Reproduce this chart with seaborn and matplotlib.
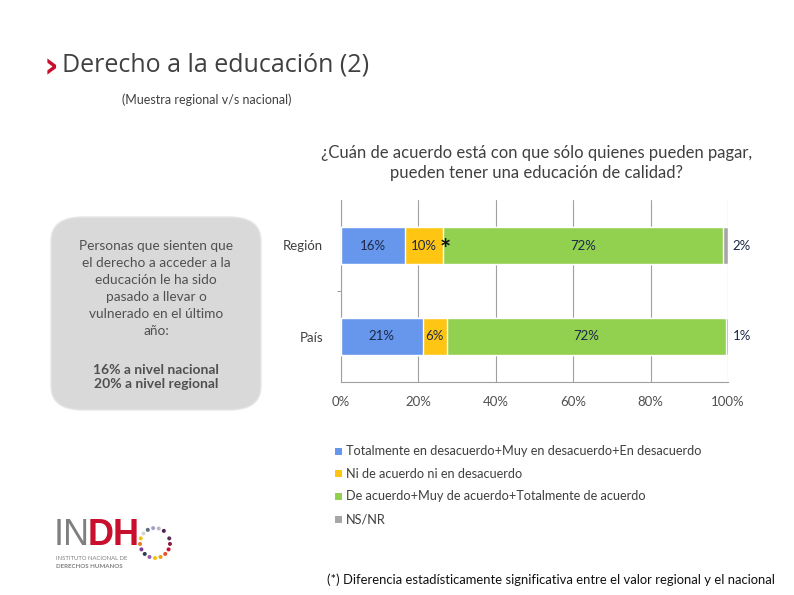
import matplotlib
matplotlib.use("Agg")
import matplotlib.pyplot as plt
from matplotlib.patches import FancyBboxPatch, Ellipse, Rectangle
import numpy as np
import pandas as pd
import seaborn as sns

sns.set_style("white")
plt.rcParams["font.family"] = ["Lato", "DejaVu Sans"]

# data
groups = ["Región", "País"]
categories = [
    "Totalmente en desacuerdo+Muy en desacuerdo+En desacuerdo",
    "Ni de acuerdo ni en desacuerdo",
    "De acuerdo+Muy de acuerdo+Totalmente de acuerdo",
    "NS/NR",
]
region_vals = [16.5, 9.9, 72.2, 1.4]
pais_vals = [21.1, 6.2, 72.2, 0.5]
region_labels = ["16%", "10%", "72%", "2%"]
pais_labels = ["21%", "6%", "72%", "1%"]
colors = ["#6797EC", "#FFC513", "#92D050", "#A6A6A6"]
xticks = [0, 20, 40, 60, 80, 100]

df = pd.DataFrame({"grupo": groups})
vals = np.array([region_vals, pais_vals])
cums = vals.cumsum(axis=1)
for i, c in enumerate(categories):
    df[c] = cums[:, i]

fig = plt.figure(figsize=(7.94, 5.95), dpi=100)
ax = fig.add_axes([341 / 794, 1 - 382 / 595, 387 / 794, 182 / 595])

# stacked bars drawn as overlapping cumulative totals, largest first
for i in range(len(categories) - 1, -1, -1):
    sns.barplot(data=df, y="grupo", x=categories[i], color=colors[i],
                orient="h", width=0.4, ax=ax, saturation=1, zorder=3)

ax.set_xlim(0, 100)
ax.set_ylim(1.5, -0.5)
ax.set_xticks(xticks)
ax.set_xticklabels([f"{t}%" for t in xticks], fontsize=9.5, color="#505050")
ax.set_yticks([0, 1])
ax.set_yticklabels(groups, fontsize=9.5, color="#404040")
ax.set_yticks([0.5], minor=True)
ax.tick_params(axis="y", which="minor", length=3, color="#888888", left=True)
ax.tick_params(axis="y", which="major", length=0, pad=13)
ax.tick_params(axis="x", length=0, pad=10)
ax.set_xlabel("")
ax.set_ylabel("")
ax.grid(axis="x", color="#A0A0A0", linewidth=0.8, zorder=0)
ax.set_axisbelow(True)
for s in ["top", "right"]:
    ax.spines[s].set_visible(False)
for s in ["left", "bottom"]:
    ax.spines[s].set_color("#A0A0A0")
    ax.spines[s].set_linewidth(0.8)

# segment labels
for row, labs in enumerate([region_labels, pais_labels]):
    starts = np.concatenate([[0], cums[row, :-1]])
    for j in range(3):
        ax.text(starts[j] + vals[row, j] / 2, row, labs[j], ha="center", va="center",
                fontsize=9.5, color="#1C2848", zorder=5)
    ax.text(101.2, row, labs[3], ha="left", va="center", fontsize=9.5,
            color="#1C2848", clip_on=False)

ax.text(cums[0, 1] + 0.6, 0.05, "*", ha="center", va="center", fontsize=19,
        fontweight="bold", color="#111111", zorder=6)

# titles
fig.text(44 / 794, 1 - 67 / 595, "›", fontsize=26, fontweight="bold",
         color="#C8102E", ha="left", va="center", family=["DejaVu Sans"])
fig.text(62 / 794, 1 - 65 / 595, "Derecho a la educación (2)", fontsize=18,
         color="#404040", ha="left", va="center", family=["Open Sans", "DejaVu Sans"])
fig.text(207 / 794, 1 - 100 / 595, "(Muestra regional v/s nacional)", fontsize=9,
         color="#404040", ha="center", va="center")
fig.text(537 / 794, 1 - 163 / 595,
         "¿Cuán de acuerdo está con que sólo quienes pueden pagar,\npueden tener una educación de calidad?",
         fontsize=12, color="#404040", ha="center", va="center", linespacing=1.3)

# side box
box = FancyBboxPatch((51 / 794, 1 - 410 / 595), 210 / 794, 193 / 595,
                     boxstyle="round,pad=0,rounding_size=0.04",
                     transform=fig.transFigure, facecolor="#D9D9D9",
                     edgecolor="#E6E6E6", linewidth=1)
fig.patches.append(box)
fig.text(156 / 794, 1 - 288 / 595,
         "Personas que sienten que\nel derecho a acceder a la\neducación le ha sido\n"
         "pasado a llevar o\nvulnerado en el último\naño:",
         fontsize=9.8, color="#505050", ha="center", va="center", linespacing=1.5)
fig.text(156 / 794, 1 - 377 / 595, "16% a nivel nacional\n20% a nivel regional",
         fontsize=10, fontweight="bold", color="#505050", ha="center", va="center",
         linespacing=1.25)

# legend
for k, (c, lab) in enumerate(zip(colors, categories)):
    y = 1 - (451 + k * 22.7) / 595
    fig.patches.append(Rectangle((335 / 794, y - 3.5 / 595), 7 / 794, 7 / 595,
                                 transform=fig.transFigure, facecolor=c,
                                 edgecolor="none"))
    fig.text(346 / 794, y, lab, fontsize=9.2, color="#404040", ha="left", va="center")

# logo
fig.text(54 / 794, 1 - 545 / 595, "IN", fontsize=26, color="#7F7F7F",
         ha="left", va="baseline", family=["Liberation Sans", "DejaVu Sans"])
fig.text(88 / 794, 1 - 545 / 595, "DH", fontsize=26, fontweight="bold",
         color="#C8102E", ha="left", va="baseline", family=["Liberation Sans", "DejaVu Sans"])
fig.text(56 / 794, 1 - 558 / 595, "INSTITUTO NACIONAL DE", fontsize=4.2,
         color="#7F7F7F", ha="left", va="center")
fig.text(56 / 794, 1 - 566 / 595, "DERECHOS HUMANOS", fontsize=4.4, fontweight="bold",
         color="#7F7F7F", ha="left", va="center")
ang = np.linspace(0.3 * np.pi, 2.1 * np.pi, 16)
dot_cols = ["#5A2A5A", "#8B1E3F", "#C8102E", "#E5532B", "#F39C12", "#F4C20D",
            "#9B59B6", "#2C3E50", "#7D3C98", "#E67E22", "#F1C40F", "#D5D5D5",
            "#5D6D7E", "#A0A0D0", "#BBBBBB", "#4A235A"]
cx, cy, r = 155 / 794, 1 - 543 / 595, 15 / 595
for a, col in zip(ang, dot_cols[::-1]):
    fig.patches.append(Ellipse(
        (cx + r * np.cos(a) * 595 / 794, cy + r * np.sin(a)), 4 / 794, 4 / 595,
        transform=fig.transFigure, facecolor=col, edgecolor="none"))

# footnote
fig.text(775 / 794, 1 - 580 / 595,
         "(*) Diferencia estadísticamente significativa entre el valor regional y el nacional",
         fontsize=9.4, color="#111111", ha="right", va="center")

fig.savefig("out.png", dpi=100)
plt.close(fig)
